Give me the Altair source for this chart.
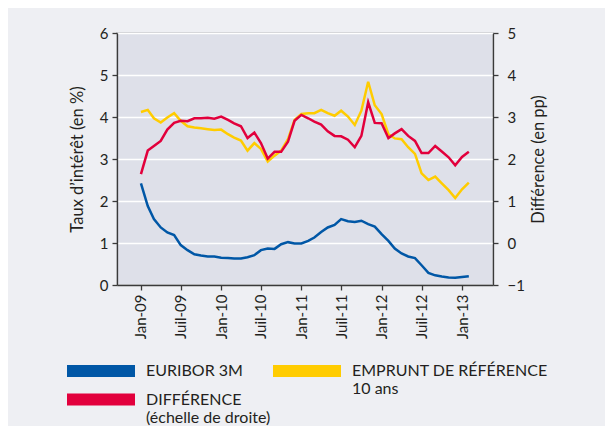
import altair as alt
import pandas as pd

# ---- data (monthly, Jan 2009 - Feb 2013) ----
months = pd.date_range("2009-01-01", "2013-02-01", freq="MS").strftime("%Y-%m-%dT00:00:00").tolist()

euribor_3m = [2.42, 1.88, 1.57, 1.37, 1.25, 1.19, 0.95, 0.83, 0.73, 0.70, 0.68, 0.68,
              0.65, 0.64, 0.63, 0.63, 0.66, 0.71, 0.83, 0.87, 0.86, 0.97, 1.02, 0.99,
              0.99, 1.05, 1.13, 1.26, 1.37, 1.43, 1.57, 1.52, 1.50, 1.53, 1.45, 1.39,
              1.21, 1.05, 0.87, 0.75, 0.68, 0.64, 0.47, 0.29, 0.23, 0.20, 0.18, 0.17,
              0.19, 0.21]

emprunt_10ans = [4.12, 4.17, 3.97, 3.87, 3.99, 4.09, 3.91, 3.78, 3.75, 3.73, 3.71, 3.69,
                 3.70, 3.59, 3.51, 3.44, 3.20, 3.38, 3.24, 2.94, 3.08, 3.20, 3.47, 3.93,
                 4.07, 4.09, 4.09, 4.17, 4.09, 4.03, 4.15, 4.01, 3.81, 4.15, 4.84, 4.28,
                 4.07, 3.59, 3.49, 3.47, 3.28, 3.12, 2.66, 2.50, 2.58, 2.42, 2.26, 2.07,
                 2.28, 2.44]

difference = [1.64, 2.20, 2.31, 2.43, 2.70, 2.86, 2.91, 2.90, 2.97, 2.97, 2.98, 2.96,
              3.01, 2.93, 2.85, 2.78, 2.50, 2.63, 2.38, 2.01, 2.17, 2.17, 2.41, 2.91,
              3.05, 2.97, 2.89, 2.82, 2.66, 2.55, 2.54, 2.46, 2.28, 2.55, 3.35, 2.86,
              2.85, 2.50, 2.61, 2.71, 2.55, 2.43, 2.14, 2.14, 2.31, 2.18, 2.04, 1.85,
              2.05, 2.17]

name_euribor = "EURIBOR 3M"
name_emprunt = "EMPRUNT DE RÉFÉRENCE|10 ans"
name_diff = "DIFFÉRENCE|(échelle de droite)"
color_euribor = "#0057A6"
color_emprunt = "#FFCC00"
color_diff = "#E2003C"

left_df = pd.concat([
    pd.DataFrame({"date": months, "value": euribor_3m, "series": name_euribor}),
    pd.DataFrame({"date": months, "value": emprunt_10ans, "series": name_emprunt}),
])
right_df = pd.DataFrame({"date": months, "value": difference, "series": name_diff})

FONT = "Lato"
TXT = "#231F20"

tick_dates = [alt.DateTime(year=y, month=m, date=1) for y in range(2009, 2014) for m in (1, 7)
              if not (y == 2013 and m == 7)]

x_enc = alt.X(
    "date:T",
    scale=alt.Scale(domain=[alt.DateTime(year=2008, month=9, date=14),
                            alt.DateTime(year=2013, month=5, date=22)]),
    axis=alt.Axis(
        title=None, values=tick_dates, grid=False,
        labelExpr="(month(datum.value) == 0 ? 'Jan-' : 'Juil-') + timeFormat(datum.value, '%y')",
        labelAngle=270, labelFontSize=15, labelPadding=4, tickSize=5,
    ),
)

legend_common = dict(
    title=None, orient="none", symbolType="stroke", symbolSize=68 * 68, symbolStrokeWidth=12,
    labelFontSize=16, labelFont=FONT, labelColor=TXT, labelLimit=400,
    labelExpr="split(datum.label, '|')", labelOffset=5, padding=0,
)

left = alt.Chart(left_df).mark_line(strokeWidth=2.5).encode(
    x=x_enc,
    y=alt.Y("value:Q", scale=alt.Scale(domain=[0, 6]),
            axis=alt.Axis(title="Taux d’intérêt (en %)", values=[0, 1, 2, 3, 4, 5, 6],
                          format="d", orient="left", grid=True, tickSize=5, labelPadding=4,
                          titlePadding=14)),
    color=alt.Color(
        "series:N",
        scale=alt.Scale(domain=[name_euribor, name_emprunt], range=[color_euribor, color_emprunt]),
        legend=alt.Legend(legendX=-56, legendY=298, columns=2, gridAlign="none",
                          columnPadding=6, **legend_common),
    ),
)

right = alt.Chart(right_df).mark_line(strokeWidth=2.5).encode(
    x=x_enc,
    y=alt.Y("value:Q", scale=alt.Scale(domain=[-1, 5]),
            axis=alt.Axis(title="Différence (en pp)", values=[-1, 0, 1, 2, 3, 4, 5],
                          format="d", orient="right", grid=False, tickSize=5, labelPadding=9,
                          titleAngle=270, titlePadding=22)),
    color=alt.Color(
        "series:N",
        scale=alt.Scale(domain=[name_diff], range=[color_diff]),
        legend=alt.Legend(legendX=-56, legendY=326.5, **legend_common),
    ),
)

chart = alt.layer(left, right).resolve_scale(y="independent", color="independent").properties(
    width=376, height=252,
    autosize=alt.AutoSizeParams(type="none"),
    padding={"left": 109, "top": 25, "right": 112, "bottom": 141},
    background="#EEEFF3",
).configure_view(
    fill="#DEE0E9", stroke="#C9CACE", strokeWidth=2,
).configure_axis(
    labelFont=FONT, titleFont=FONT, labelColor=TXT, titleColor=TXT,
    labelFontSize=15, titleFontSize=16.5, titleFontWeight="normal",
    domainColor="#3A3A3A", domainWidth=1.3, tickColor="#3A3A3A", tickWidth=1.3,
    gridColor="#FFFFFF", gridWidth=1.5,
)

chart.save("out.html", embed_options={"renderer": "svg", "actions": False})
